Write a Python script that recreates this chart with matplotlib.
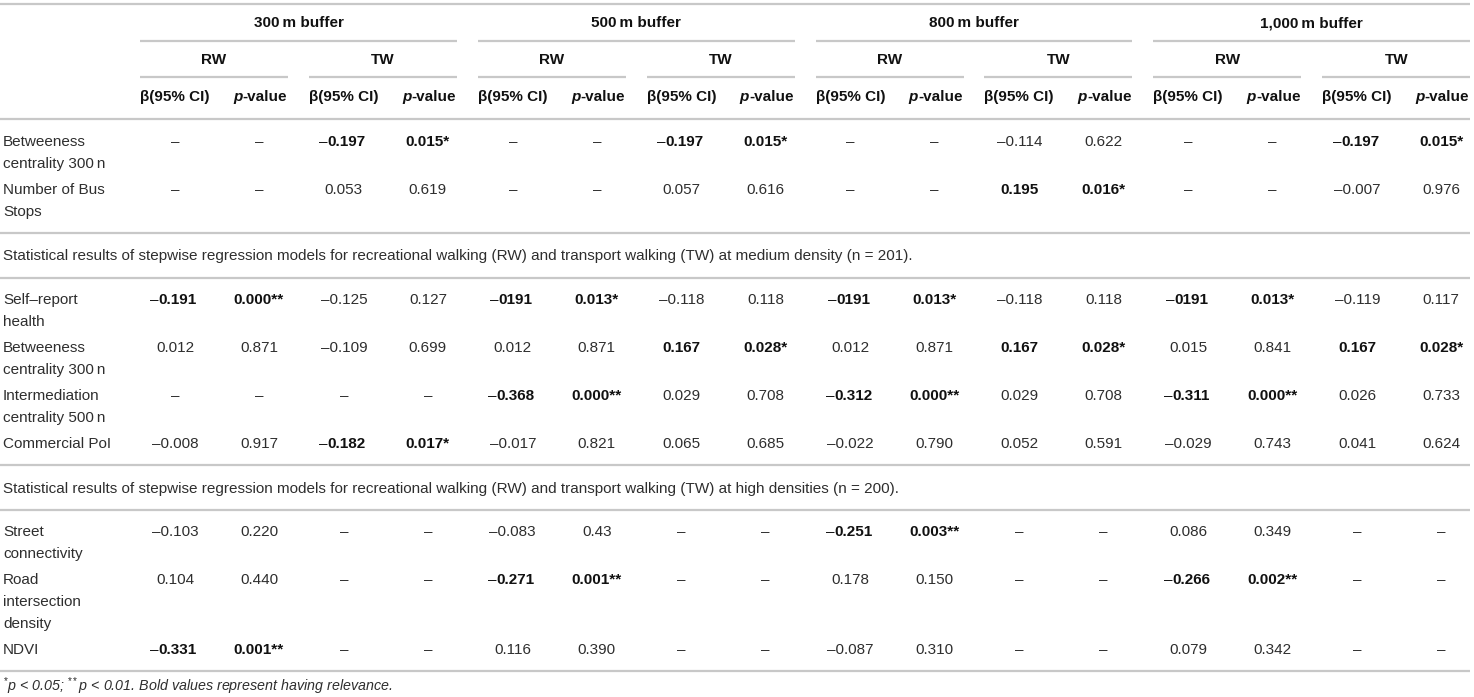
import matplotlib
matplotlib.use("Agg")
import matplotlib.pyplot as plt

plt.rcParams["font.family"] = ["Liberation Sans", "DejaVu Sans"]
plt.rcParams["mathtext.fontset"] = "custom"
plt.rcParams["mathtext.rm"] = "Liberation Sans"
plt.rcParams["mathtext.it"] = "Liberation Sans:italic"
plt.rcParams["mathtext.bf"] = "Liberation Sans:bold"

# --- table content ---------------------------------------------------------
buffers = ["300\u2009m buffer", "500\u2009m buffer", "800\u2009m buffer", "1,000\u2009m buffer"]
modes = ["RW", "TW"]

low_labels = [["Betweeness", "centrality 300\u2009n"], ["Number of Bus", "Stops"]]
low_values = [
    ["–", "–", "–0.197", "0.015*", "–", "–", "–0.197", "0.015*",
     "–", "–", "–0.114", "0.622", "–", "–", "–0.197", "0.015*"],
    ["–", "–", "0.053", "0.619", "–", "–", "0.057", "0.616",
     "–", "–", "0.195", "0.016*", "–", "–", "–0.007", "0.976"],
]

medium_caption = ("Statistical results of stepwise regression models for recreational walking (RW) "
                  "and transport walking (TW) at medium density (n = 201).")
medium_labels = [["Self–report", "health"], ["Betweeness", "centrality 300\u2009n"],
                 ["Intermediation", "centrality 500\u2009n"], ["Commercial PoI"]]
medium_values = [
    ["–0.191", "0.000**", "–0.125", "0.127", "–0191", "0.013*", "–0.118", "0.118",
     "–0191", "0.013*", "–0.118", "0.118", "–0191", "0.013*", "–0.119", "0.117"],
    ["0.012", "0.871", "–0.109", "0.699", "0.012", "0.871", "0.167", "0.028*",
     "0.012", "0.871", "0.167", "0.028*", "0.015", "0.841", "0.167", "0.028*"],
    ["–", "–", "–", "–", "–0.368", "0.000**", "0.029", "0.708",
     "–0.312", "0.000**", "0.029", "0.708", "–0.311", "0.000**", "0.026", "0.733"],
    ["–0.008", "0.917", "–0.182", "0.017*", "–0.017", "0.821", "0.065", "0.685",
     "–0.022", "0.790", "0.052", "0.591", "–0.029", "0.743", "0.041", "0.624"],
]

high_caption = ("Statistical results of stepwise regression models for recreational walking (RW) "
                "and transport walking (TW) at high densities (n = 200).")
high_labels = [["Street", "connectivity"], ["Road", "intersection", "density"], ["NDVI"]]
high_values = [
    ["–0.103", "0.220", "–", "–", "–0.083", "0.43", "–", "–",
     "–0.251", "0.003**", "–", "–", "0.086", "0.349", "–", "–"],
    ["0.104", "0.440", "–", "–", "–0.271", "0.001**", "–", "–",
     "0.178", "0.150", "–", "–", "–0.266", "0.002**", "–", "–"],
    ["–0.331", "0.001**", "–", "–", "0.116", "0.390", "–", "–",
     "–0.087", "0.310", "–", "–", "0.079", "0.342", "–", "–"],
]

footnote = r"$^{*}$p < 0.05; $^{**}$p < 0.01. Bold values represent having relevance."

# --- layout (pixels) -------------------------------------------------------
W, H = 1474, 697
FS = 11
TXT = "#2e2e2e"
DARK = "#111111"
RULE = "#c8c8c8"
LINE_H = 22
SUB_LEFT0, SUB_PITCH, SUB_W = 140, 168.9, 148

fig = plt.figure(figsize=(W / 100, H / 100), dpi=100)
ax = fig.add_axes([0, 0, 1, 1])
ax.set_xlim(0, W)
ax.set_ylim(H, 0)
ax.axis("off")


def rule(y, x0=0, x1=1470):
    ax.plot([x0, x1], [y, y], color=RULE, lw=1.6, solid_capstyle="butt")


def sub_left(k):
    return SUB_LEFT0 + SUB_PITCH * k


def col_center(j):
    L = sub_left(j // 2)
    return L + 35 if j % 2 == 0 else L + 119


# header
rule(4)
for g, name in enumerate(buffers):
    x0 = sub_left(2 * g)
    x1 = sub_left(2 * g + 1) + SUB_W
    ax.text((x0 + x1) / 2, 23, name, ha="center", va="center", fontsize=FS,
            fontweight="bold", color=DARK)
    rule(41, x0, x1)
    for m, mode in enumerate(modes):
        L = sub_left(2 * g + m)
        ax.text(L + SUB_W / 2, 60, mode, ha="center", va="center", fontsize=FS,
                fontweight="bold", color=DARK)
        rule(77, L, L + SUB_W)
        ax.text(L, 97, "β(95% CI)", ha="left", va="center", fontsize=FS,
                fontweight="bold", color=DARK)
        tv = ax.text(L + SUB_W - 1, 97, "-value", ha="right", va="center", fontsize=FS,
                     fontweight="bold", color=DARK)
        ax.annotate("p", xy=(0, 0), xycoords=tv, ha="right", va="bottom", fontsize=FS,
                    fontweight="bold", fontstyle="italic", color=DARK)
rule(119)


def draw_rows(y, labels, values):
    # y = centre of the first text line of the first row; returns y of closing rule
    for lab, vals in zip(labels, values):
        for i, line in enumerate(lab):
            ax.text(3, y + LINE_H * i, line, ha="left", va="center", fontsize=FS, color=TXT)
        for k in range(8):
            b, p = vals[2 * k], vals[2 * k + 1]
            bold = "*" in p
            for j, s in ((2 * k, b), (2 * k + 1, p)):
                x = col_center(j)
                if bold and s.startswith("–"):
                    t = ax.text(x + 3, y, s[1:], ha="center", va="center", fontsize=FS,
                                fontweight="bold", color=DARK)
                    ax.annotate("–", xy=(0, 0), xycoords=t, ha="right", va="bottom",
                                fontsize=FS, color=DARK)
                else:
                    ax.text(x, y, s, ha="center", va="center", fontsize=FS,
                            fontweight="bold" if bold else "normal",
                            color=DARK if bold else TXT)
        last = y + LINE_H * (len(lab) - 1)
        y += LINE_H * len(lab) + 3.8
    return last + 21.5


y = draw_rows(142, low_labels, low_values)
rule(y)
ax.text(3, y + 23, medium_caption, ha="left", va="center", fontsize=FS, color=TXT)
rule(y + 45)
y = draw_rows(y + 67, medium_labels, medium_values)
rule(y)
ax.text(3, y + 23.5, high_caption, ha="left", va="center", fontsize=FS, color=TXT)
rule(y + 45)
y = draw_rows(y + 67, high_labels, high_values)
rule(y)

ax.text(3, y + 20, footnote, ha="left", va="baseline", fontsize=10.3,
        fontstyle="italic", color=TXT)

fig.savefig("out.png", dpi=100)
